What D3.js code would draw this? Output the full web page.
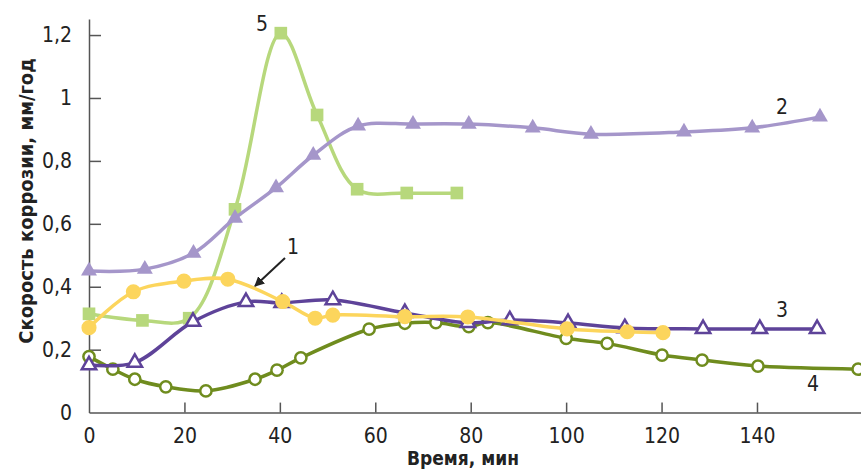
<!DOCTYPE html>
<html>
<head>
<meta charset="utf-8">
<script src="https://cdn.jsdelivr.net/npm/d3@7"></script>
<style>
  body { margin: 0; background: #fff; }
  svg text { font-family: "Liberation Sans Narrow", "DejaVu Sans Condensed", "Roboto", sans-serif; fill: #222; }
</style>
</head>
<body>
<script>
// time, min / corrosion rate, mm/yr
var t1 = [0, 9.3, 19.9, 29.1, 40.6, 47.4, 51.1, 66.2, 79.4, 100.2, 112.8, 120.3];
var v1 = [0.27, 0.384, 0.418, 0.424, 0.353, 0.30, 0.31, 0.305, 0.304, 0.266, 0.257, 0.254];

var t2 = [0, 11.7, 21.9, 30.6, 39.2, 47, 56.4, 67.9, 79.6, 93, 105.2, 124.7, 139, 153.2];
var v2 = [0.45, 0.456, 0.507, 0.618, 0.715, 0.818, 0.911, 0.917, 0.917, 0.905, 0.885, 0.892, 0.905, 0.94];

var t3 = [0, 9.6, 21.8, 32.9, 40.4, 51.1, 66.2, 79.4, 88.2, 100.4, 112.3, 128.7, 140.6, 152.6];
var v3 = [0.151, 0.159, 0.289, 0.352, 0.349, 0.358, 0.317, 0.285, 0.294, 0.285, 0.269, 0.266, 0.266, 0.266];

var t4 = [0, 5, 9.6, 16.1, 24.5, 34.8, 39.4, 44.4, 58.7, 66.2, 72.7, 79.6, 83.6, 100, 108.6, 120.1, 128.5, 140.2, 161.2];
var v4 = [0.178, 0.138, 0.106, 0.082, 0.069, 0.106, 0.135, 0.174, 0.265, 0.284, 0.286, 0.273, 0.286, 0.236, 0.22, 0.183, 0.167, 0.148, 0.138];

var t5 = [0, 11.2, 21, 30.6, 40.2, 47.8, 56.2, 66.6, 77.1];
var v5 = [0.314, 0.293, 0.30, 0.646, 1.206, 0.946, 0.71, 0.698, 0.698];

var xTicks = [0, 20, 40, 60, 80, 100, 120, 140];
var yTicks = [0, 0.2, 0.4, 0.6, 0.8, 1, 1.2];
var xTitle = "Время, мин";
var yTitle = "Скорость коррозии, мм/год";

var width = 861, height = 469;

var x = d3.scaleLinear().domain([0, 161.8]).range([89, 861]);
var y = d3.scaleLinear().domain([0, 1.251]).range([412.6, 19]);

var ru = d3.formatLocale({decimal: ",", thousands: " ", grouping: [3], currency: ["", ""]});
var fmt = ru.format("~g");

var svg = d3.select("body").append("svg")
    .attr("width", width)
    .attr("height", height);

// axes
var xAxis = svg.append("g")
    .attr("transform", "translate(0," + y(0) + ")")
    .call(d3.axisBottom(x).tickValues(xTicks).tickSizeInner(-10).tickSizeOuter(0).tickPadding(15).tickFormat(fmt));
var yAxis = svg.append("g")
    .attr("transform", "translate(" + x(0) + ",0)")
    .call(d3.axisLeft(y).tickValues(yTicks).tickSizeInner(-12).tickSizeOuter(0).tickPadding(17).tickFormat(fmt));

[xAxis, yAxis].forEach(function (a) {
    a.select(".domain").attr("stroke", "#555").attr("stroke-width", 1.5);
    a.selectAll(".tick line").attr("stroke", "#555").attr("stroke-width", 1.5)
        .filter(function (d) { return d === 0; }).remove();
    a.selectAll(".tick text").attr("font-size", 21).attr("fill", "#222");
});

svg.append("text")
    .attr("x", 463)
    .attr("y", 465)
    .attr("text-anchor", "middle")
    .attr("font-size", 19)
    .attr("font-weight", "bold")
    .text(xTitle);

svg.append("text")
    .attr("transform", "translate(33,201)rotate(-90)")
    .attr("text-anchor", "middle")
    .attr("font-size", 20)
    .attr("font-weight", "bold")
    .text(yTitle);

// series
var series = [
    {t: t5, v: v5, color: "#b7d87c", shape: "square", fill: true},
    {t: t4, v: v4, color: "#6f8c1e", shape: "circle", fill: false},
    {t: t2, v: v2, color: "#a596ca", shape: "triangle", fill: true},
    {t: t3, v: v3, color: "#5e4399", shape: "triangle", fill: false},
    {t: t1, v: v1, color: "#fcd55c", shape: "circle", fill: true}
];

var line = d3.line()
    .x(function (d) { return x(d[0]); })
    .y(function (d) { return y(d[1]); })
    .curve(d3.curveCatmullRom.alpha(0.5));

series.forEach(function (s) {
    var pts = s.t.map(function (t, i) { return [t, s.v[i]]; });
    var g = svg.append("g");
    g.append("path")
        .attr("d", line(pts))
        .attr("fill", "none")
        .attr("stroke", s.color)
        .attr("stroke-width", 3.5);

    var sym;
    if (s.shape === "square") sym = d3.symbol().type(d3.symbolSquare).size(160);
    else if (s.shape === "triangle") sym = d3.symbol().type(d3.symbolTriangle).size(s.fill ? 110 : 90);
    else sym = d3.symbol().type(d3.symbolCircle).size(s.fill ? 180 : 100);

    g.selectAll("path.mark")
        .data(pts)
        .enter()
        .append("path")
        .attr("class", "mark")
        .attr("transform", function (d) { return "translate(" + x(d[0]) + "," + y(d[1]) + ")"; })
        .attr("d", sym())
        .attr("fill", s.fill ? s.color : "#fff")
        .attr("stroke", s.color)
        .attr("stroke-width", s.fill ? 0 : 2.5);
});

// curve labels
var labels = [
    {text: "1", px: 293, py: 254},
    {text: "2", px: 782, py: 114},
    {text: "3", px: 782, py: 317},
    {text: "4", px: 813, py: 391},
    {text: "5", px: 262, py: 31}
];
svg.selectAll("text.lbl")
    .data(labels)
    .enter()
    .append("text")
    .attr("class", "lbl")
    .attr("x", function (d) { return d.px; })
    .attr("y", function (d) { return d.py; })
    .attr("text-anchor", "middle")
    .attr("font-size", 21)
    .text(function (d) { return d.text; });

// arrow to curve 1
svg.append("defs").append("marker")
    .attr("id", "ah")
    .attr("viewBox", "0 0 10 10")
    .attr("refX", 9).attr("refY", 5)
    .attr("markerWidth", 5).attr("markerHeight", 5)
    .attr("orient", "auto")
    .append("path")
    .attr("d", "M0,0L10,5L0,10z")
    .attr("fill", "#222");
svg.append("line")
    .attr("x1", 285).attr("y1", 258)
    .attr("x2", 255).attr("y2", 286)
    .attr("stroke", "#222")
    .attr("stroke-width", 2)
    .attr("marker-end", "url(#ah)");
</script>
</body>
</html>
